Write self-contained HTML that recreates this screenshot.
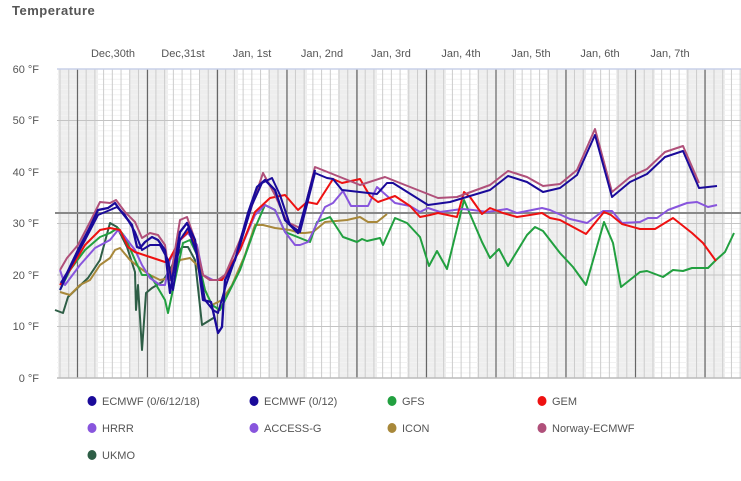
<!DOCTYPE html>
<html><head><meta charset="utf-8"><style>
body{margin:0;background:#fff;}
svg{display:block;font-family:"Liberation Sans",sans-serif;}
</style></head><body>
<svg width="741" height="481" viewBox="0 0 741 481" xmlns="http://www.w3.org/2000/svg">
<text x="12" y="15" font-size="13" font-weight="bold" fill="#555" letter-spacing="0.5">Temperature</text>
<g id="shade" fill="#eeeeee">
<rect x="58" y="69" width="40" height="309"/>
<rect x="129" y="69" width="39" height="309"/>
<rect x="199" y="69" width="39" height="309"/>
<rect x="268" y="69" width="39" height="309"/>
<rect x="338" y="69" width="39" height="309"/>
<rect x="407" y="69" width="39" height="309"/>
<rect x="477" y="69" width="39" height="309"/>
<rect x="547" y="69" width="39" height="309"/>
<rect x="616" y="69" width="39" height="309"/>
<rect x="686" y="69" width="39" height="309"/>
</g>
<g stroke="#f2f2f2" stroke-width="1" id="minor"></g>
<g stroke="#cccccc" stroke-width="1" id="vgrid"></g>
<g stroke="#c4c4c4" stroke-width="1">
<line x1="57" x2="741" y1="120.5" y2="120.5"/><line x1="57" x2="741" y1="172" y2="172"/>
<line x1="57" x2="741" y1="223.5" y2="223.5"/><line x1="57" x2="741" y1="275" y2="275"/>
<line x1="57" x2="741" y1="326.5" y2="326.5"/>
</g>
<g stroke="#666" stroke-width="1.2">
<line x1="77.5" x2="77.5" y1="69" y2="378"/><line x1="147.5" x2="147.5" y1="69" y2="378"/>
<line x1="217.5" x2="217.5" y1="69" y2="378"/><line x1="287" x2="287" y1="69" y2="378"/>
<line x1="357" x2="357" y1="69" y2="378"/><line x1="426.5" x2="426.5" y1="69" y2="378"/>
<line x1="496" x2="496" y1="69" y2="378"/><line x1="566" x2="566" y1="69" y2="378"/>
<line x1="635.5" x2="635.5" y1="69" y2="378"/><line x1="705" x2="705" y1="69" y2="378"/>
</g>
<line x1="57" x2="741" y1="69" y2="69" stroke="#c8d0e8" stroke-width="1.5"/>
<line x1="57" x2="741" y1="378" y2="378" stroke="#bbb" stroke-width="1.5"/>
<line x1="55" x2="741" y1="213" y2="213" stroke="#888" stroke-width="2"/>
<g font-size="11" fill="#555" text-anchor="end">
<text x="39" y="73">60 °F</text><text x="39" y="124">50 °F</text><text x="39" y="176">40 °F</text>
<text x="39" y="227">30 °F</text><text x="39" y="279">20 °F</text><text x="39" y="330">10 °F</text>
<text x="39" y="382">0 °F</text>
</g>
<g font-size="11" fill="#555" text-anchor="middle">
<text x="113" y="57">Dec,30th</text><text x="183" y="57">Dec,31st</text><text x="252" y="57">Jan, 1st</text>
<text x="322" y="57">Jan, 2nd</text><text x="391" y="57">Jan, 3rd</text><text x="461" y="57">Jan, 4th</text>
<text x="531" y="57">Jan, 5th</text><text x="600" y="57">Jan, 6th</text><text x="670" y="57">Jan, 7th</text>
</g>
<g fill="none" stroke-width="2" stroke-linejoin="round">
<polyline stroke="#2e5e46" points="55,310 63,313 68,297 88,278 100,260 110,223 117,227 127,247 135,272 136,310 138,285 142,350 146,293 152,288 162,282 168,273 182,247 188,247 195,260 202,325 215,317"/>
<polyline stroke="#a8883a" points="60,292 70,295 80,285 90,280 100,265 110,258 115,250 120,248 130,260 140,268 150,275 160,280 170,278 180,260 190,258 197,265 205,290 212,305 222,300 232,285 245,255 255,225 263,225 275,228 290,230 300,233 305,233 313,232 325,222 347,220 360,217 368,222 377,222 387,214"/>
<polyline stroke="#22a040" points="60,290 70,270 85,250 100,237 110,233 118,228 125,237 135,260 142,275 150,275 155,283 165,300 168,313 175,280 183,243 190,240 197,255 205,290 212,305 220,310 230,290 240,270 255,228 265,205 275,210 285,232 300,238 310,242 317,222 330,217 343,237 357,242 362,239 367,241 380,238 383,245 395,218 407,223 420,237 429,266 437,251 447,269 464,200 482,242 490,258 499,249 508,266 527,235 535,227 543,231 560,253 573,267 586,285 604,222 613,243 621,287 640,272 647,271 663,277 673,270 683,271 692,268 708,268 716,260 725,252 734,233"/>
<polyline stroke="#8855dd" points="60,270 65,285 80,265 95,248 110,240 118,230 125,237 135,250 142,265 150,278 160,285 165,285 170,260 180,240 188,233 197,245 203,275 213,280 222,280 240,250 255,215 265,205 275,210 285,232 295,245 300,245 308,242 325,207 333,203 343,191 351,206 368,206 377,187 395,203 410,206 420,212 428,208 440,212 462,209 473,210 487,212 507,209 517,213 542,208 550,210 570,219 587,223 603,211 612,211 622,223 640,222 648,218 657,218 668,210 687,203 697,202 708,207 717,205"/>
<polyline stroke="#ee1111" points="60,285 70,270 85,245 100,230 110,228 120,230 128,247 135,252 150,257 165,262 168,262 180,240 190,230 197,250 203,275 210,280 222,280 240,250 255,212 270,198 285,195 298,210 307,202 317,204 333,179 342,183 360,179 370,196 378,202 395,196 410,206 420,217 430,215 438,213 457,217 464,192 470,197 482,214 490,208 503,213 517,217 530,215 542,213 550,218 560,220 586,234 604,212 611,215 622,224 640,229 655,229 673,218 692,233 703,243 716,261"/>
<polyline stroke="#b0507a" points="60,270 67,258 78,245 90,222 100,202 110,203 116,200 125,212 135,222 142,238 150,233 158,235 165,245 170,280 180,220 187,217 195,240 203,275 210,280 218,280 225,275 240,240 255,197 263,173 275,195 287,222 300,228 315,167 330,173 360,185 385,177 400,183 438,198 457,197 490,185 508,171 527,177 543,186 560,184 577,170 595,129 612,192 630,177 647,169 665,152 683,146 699,183"/>
<polyline stroke="#1a0a9a" points="60,290 70,268 85,240 98,215 110,210 117,207 125,215 135,232 142,250 150,245 160,245 168,260 173,290 180,240 188,228 197,255 205,300 213,310 218,313 226,285 240,245 252,205 262,183 272,178 280,195 290,225 300,232 315,173 327,178 333,179 342,190 377,194 387,183 393,183 428,205 450,202 490,190 508,176 527,182 543,192 560,188 577,175 595,135 612,197 630,182 647,174 665,157 683,151 699,188 717,186"/>
<polyline stroke="#1a0a9a" stroke-width="2.3" points="61,283 67,273 78,250 90,227 98,210 108,208 115,203 120,210 132,225 137,247 140,248 145,242 152,237 158,240 165,250 170,293 180,232 187,223 195,240 203,300 211,302 218,333 222,327 225,280 235,260 248,213 257,187 265,180 275,190 285,220 298,233 315,170"/>
</g>
<g font-size="11" fill="#555">
<ellipse cx="92" cy="401" rx="4.5" ry="5" fill="#1a0a9a"/><text x="102" y="405">ECMWF (0/6/12/18)</text>
<ellipse cx="254" cy="401" rx="4.5" ry="5" fill="#1a0a9a"/><text x="264" y="405">ECMWF (0/12)</text>
<ellipse cx="392" cy="401" rx="4.5" ry="5" fill="#22a040"/><text x="402" y="405">GFS</text>
<ellipse cx="542" cy="401" rx="4.5" ry="5" fill="#ee1111"/><text x="552" y="405">GEM</text>
<ellipse cx="92" cy="428" rx="4.5" ry="5" fill="#8855dd"/><text x="102" y="432">HRRR</text>
<ellipse cx="254" cy="428" rx="4.5" ry="5" fill="#8855dd"/><text x="264" y="432">ACCESS-G</text>
<ellipse cx="392" cy="428" rx="4.5" ry="5" fill="#a8883a"/><text x="402" y="432">ICON</text>
<ellipse cx="542" cy="428" rx="4.5" ry="5" fill="#b0507a"/><text x="552" y="432">Norway-ECMWF</text>
<ellipse cx="92" cy="455" rx="4.5" ry="5" fill="#2e5e46"/><text x="102" y="459">UKMO</text>
</g>
<script>
(function(){
var ns="http://www.w3.org/2000/svg";
var m=document.getElementById("minor");
for(var t=1;t<60;t++){if(t%10==0)continue;var y=378-5.15*t;var l=document.createElementNS(ns,"line");l.setAttribute("x1",57);l.setAttribute("x2",741);l.setAttribute("y1",y);l.setAttribute("y2",y);m.appendChild(l);}
var v=document.getElementById("vgrid");
for(var x=60;x<741;x+=8.72){var l2=document.createElementNS(ns,"line");l2.setAttribute("x1",x);l2.setAttribute("x2",x);l2.setAttribute("y1",69);l2.setAttribute("y2",378);v.appendChild(l2);}
})();
</script>
</svg>
</body></html>
